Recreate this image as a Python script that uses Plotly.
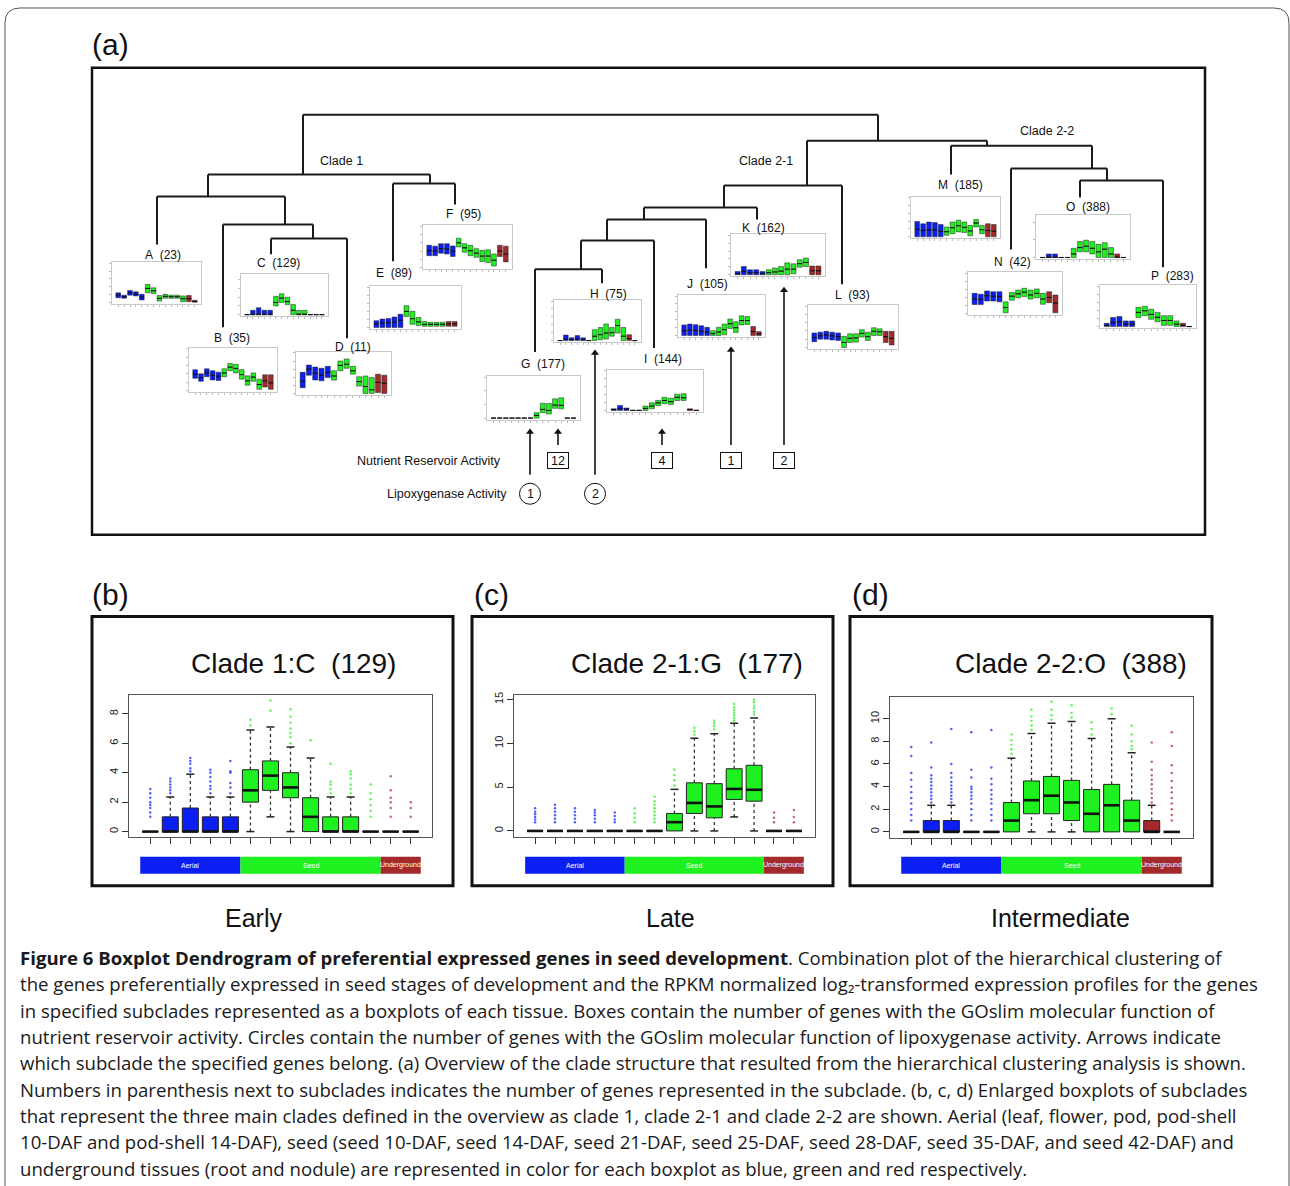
import plotly.graph_objects as go

W, H = 1290, 1186

# ======================= DATA =======================
clade_names = ["A", "B", "C", "D", "E", "F", "G", "H", "I", "J", "K", "L", "M", "N", "O", "P"]
clade_sizes = [23, 35, 129, 11, 89, 95, 177, 75, 144, 105, 162, 93, 185, 42, 388, 283]

tissue_group = [0, 0, 0, 0, 0, 1, 1, 1, 1, 1, 1, 1, 2, 2]
group_labels = ["Aerial", "Seed", "Underground"]
group_sizes = [5, 7, 2]

# ---- enlarged panel (b): Clade 1:C (129) ----
b_q1 = [0, 0, 0, 0, 0, 2.0, 2.8, 2.3, 0, 0, 0, 0, 0, 0]
b_med = [0, 0, 0, 0, 0, 2.8, 3.8, 3.0, 1.0, 0, 0, 0, 0, 0]
b_q3 = [0, 1.0, 1.6, 1.0, 1.0, 4.2, 4.8, 4.0, 2.3, 1.0, 1.0, 0, 0, 0]
b_lo = [0, 0, 0, 0, 0, 0, 1.0, 0, 0, 0, 0, 0, 0, 0]
b_hi = [0, 2.35, 3.9, 2.35, 2.35, 6.9, 7.1, 5.75, 5.0, 2.35, 2.35, 0, 0, 0]
b_out = [[1.0, 1.3, 1.6, 1.8, 2.0, 2.3, 2.6, 2.9], [2.6, 2.8, 3.0, 3.2, 3.4, 3.6],
         [4.1, 4.3, 4.6, 4.8, 5.0], [2.6, 2.9, 3.1, 3.4, 3.7, 4.0, 4.2],
         [2.6, 3.0, 3.3, 4.0, 4.1, 4.8], [7.2, 7.6], [8.2, 8.9],
         [6.0, 6.4, 6.7, 7.0, 7.4, 7.8, 8.3], [6.2], [2.6, 2.9, 3.2, 3.4, 4.6],
         [2.6, 2.9, 3.2, 3.6, 3.9, 4.1], [1.0, 1.4, 1.8, 2.2, 2.6, 3.2],
         [1.0, 1.6, 2.0, 2.3, 2.8, 3.75], [1.0, 1.6, 2.0]]

# ---- enlarged panel (c): Clade 2-1:G (177) ----
c_q1 = [0, 0, 0, 0, 0, 0, 0, 0, 2.0, 1.5, 3.6, 3.4, 0, 0]
c_med = [0, 0, 0, 0, 0, 0, 0, 1.0, 3.2, 2.8, 4.8, 4.7, 0, 0]
c_q3 = [0, 0, 0, 0, 0, 0, 0, 2.0, 5.5, 5.4, 7.1, 7.5, 0, 0]
c_lo = [0, 0, 0, 0, 0, 0, 0, 0, 0, 0, 1.6, 0, 0, 0]
c_hi = [0, 0, 0, 0, 0, 0, 0, 4.75, 10.6, 11.1, 12.3, 12.9, 0, 0]
c_out = [[1.0, 1.3, 1.6, 1.9, 2.2, 2.6], [1.0, 1.4, 1.8, 2.2, 2.6, 3.0],
         [1.0, 1.4, 1.8, 2.2, 2.6], [1.0, 1.4, 1.8, 2.1, 2.4], [1.0, 1.3, 1.7, 2.1],
         [1.0, 1.5, 2.0, 2.6], [1.0, 1.4, 1.8, 2.2, 2.6, 3.0, 3.4, 3.9],
         [5.2, 5.8, 6.4, 7.0], [11.0, 11.4, 11.8], [11.6, 12.0, 12.3, 12.6],
         [12.6, 12.9, 13.2, 13.5, 13.8, 14.1, 14.5], [13.3, 13.6, 14.0, 14.3, 14.7, 15.0],
         [1.0, 1.5, 2.1], [1.0, 1.6, 2.4]]

# ---- enlarged panel (d): Clade 2-2:O (388) ----
d_q1 = [0, 0, 0, 0, 0, 0, 1.6, 1.6, 1.0, 0, 0, 0, 0, 0]
d_med = [0, 0, 0, 0, 0, 1.0, 2.8, 3.2, 2.6, 1.6, 2.35, 1.0, 0, 0]
d_q3 = [0, 1.0, 1.0, 0, 0, 2.6, 4.5, 4.9, 4.55, 3.75, 4.2, 2.8, 1.0, 0]
d_lo = [0, 0, 0, 0, 0, 0, 0, 0, 0, 0, 0, 0, 0, 0]
d_hi = [0, 2.35, 2.35, 0, 0, 6.5, 8.7, 9.6, 9.75, 8.25, 10.0, 7.0, 2.35, 0]
d_out = [[1.0, 1.5, 2.0, 2.5, 3.0, 3.5, 4.0, 4.6, 5.2, 6.7, 7.5],
         [2.6, 2.9, 3.2, 3.5, 3.8, 4.1, 4.4, 4.7, 5.0, 5.7, 7.9],
         [2.6, 2.9, 3.2, 3.5, 3.8, 4.1, 4.4, 4.8, 5.2, 6.0, 9.1],
         [1.0, 1.5, 2.0, 2.5, 2.9, 3.2, 3.5, 3.8, 4.0, 4.8, 5.5, 8.8],
         [1.0, 1.5, 2.0, 2.5, 2.9, 3.3, 3.7, 4.2, 4.7, 5.7, 9.0],
         [6.9, 7.3, 7.7, 8.1, 8.6], [9.0, 9.4, 9.8, 10.2, 10.8], [9.9, 10.3, 10.8, 11.5],
         [10.1, 10.5, 11.2], [8.6, 9.1, 9.7], [10.4, 10.9], [7.3, 7.6, 8.0, 8.6, 9.4],
         [2.6, 3.0, 3.4, 3.8, 4.2, 4.6, 5.0, 5.5, 6.2, 7.9],
         [1.0, 1.5, 2.0, 2.5, 3.0, 3.5, 3.9, 4.5, 5.2, 5.9, 7.6, 8.8]]

# ---- miniature boxplots of the overview (relative scale) ----
A_q1 = [1.25, 1.1, 1.9, 1.7, 0.7, 2.5, 2.3, 0.4, 1.1, 1.1, 1.1, 0.25, 0.25, 0.1]
A_med = [1.9, 1.5, 2.5, 2.2, 1.4, 3.6, 3.0, 1.1, 1.6, 1.5, 1.5, 1.0, 1.0, 0.3]
A_q3 = [2.5, 1.9, 3.1, 2.75, 2.1, 4.6, 3.75, 1.8, 2.1, 1.9, 1.9, 1.7, 1.8, 0.6]
B_q1 = [2.9, 2.2, 3.3, 2.5, 2.4, 3.3, 4.75, 4.2, 2.7, 1.25, 2.2, 0.25, 0.8, 0.25]
B_med = [3.9, 3.1, 4.2, 3.6, 3.4, 4.2, 5.6, 5.3, 3.8, 2.3, 3.2, 1.4, 2.3, 1.8]
B_q3 = [5.0, 4.0, 5.2, 4.75, 4.4, 5.2, 6.5, 6.3, 5.0, 3.5, 4.2, 2.7, 3.75, 3.75]
D_q1 = [1.4, 4.5, 3.3, 3.1, 3.9, 3.3, 5.6, 6.2, 4.75, 1.8, 0, 0, 0.2, 0]
D_med = [3.0, 6.0, 5.0, 4.5, 5.2, 4.3, 6.9, 7.2, 5.6, 2.9, 1.7, 0.9, 2.7, 2.5]
D_q3 = [5.2, 7.0, 6.5, 6.2, 6.7, 5.6, 8.0, 8.5, 6.7, 4.1, 4.3, 3.9, 4.75, 4.5]
E_q1 = [0, 0, 0, 0, 0, 2.75, 0.8, 0.5, 0.3, 0.3, 0.3, 0.3, 0.3, 0.3]
E_med = [0.9, 1.1, 1.2, 1.4, 1.8, 4.0, 2.2, 1.4, 0.8, 0.8, 0.8, 0.8, 0.9, 0.9]
E_q3 = [1.7, 2.1, 2.25, 2.6, 3.3, 5.4, 4.0, 2.5, 1.5, 1.3, 1.3, 1.3, 1.5, 1.5]
F_q1 = [2.9, 2.9, 3.5, 3.3, 2.7, 5.0, 3.75, 2.9, 2.5, 1.5, 1.25, 0.4, 2.7, 1.4]
F_med = [4.1, 4.0, 4.6, 4.5, 4.0, 6.0, 4.8, 4.1, 3.5, 2.8, 2.8, 1.8, 4.0, 3.3]
F_q3 = [5.4, 5.2, 5.8, 5.8, 5.25, 7.1, 5.8, 5.4, 4.6, 4.2, 4.3, 3.3, 5.4, 5.2]
H_q1 = [0, 0, 0, 0, 0, 0, 0, 0.2, 0.4, 1.1, 1.9, 0, 0, 0]
H_med = [0, 0.4, 0.2, 0.4, 0.2, 0, 1.1, 1.5, 1.9, 2.0, 3.8, 1.1, 0.5, 0]
H_q3 = [0, 1.4, 0.7, 1.25, 0.7, 0, 2.75, 3.3, 4.2, 3.3, 5.4, 3.3, 1.5, 0]
I_q1 = [0, 0, 0, 0, 0, 0, 0.4, 1.25, 1.7, 1.5, 2.5, 2.5, 0, 0]
I_med = [0.2, 0.5, 0.3, 0, 0, 0.5, 1.1, 1.9, 2.5, 2.2, 3.3, 3.2, 0.2, 0]
I_q3 = [0.4, 1.25, 0.6, 0, 0, 1.1, 1.9, 2.5, 3.3, 3.1, 4.1, 4.2, 0.4, 0]
J_q1 = [0, 0, 0, 0, 0, 0, 0, 0.2, 1.8, 0.8, 2.7, 2.8, 0, 0]
J_med = [1.2, 1.4, 1.3, 1.1, 0.9, 0.5, 0.9, 1.5, 3.0, 2.0, 3.8, 3.8, 1.0, 0.4]
J_q3 = [2.7, 2.9, 2.75, 2.5, 2.1, 1.25, 2.1, 2.9, 4.2, 3.5, 5.0, 4.8, 2.3, 1.0]
K_q1 = [0, 0, 0, 0, 0, 0, 0, 0, 0, 0.25, 1.9, 2.1, 0, 0]
K_med = [0.3, 0.9, 0.5, 0.5, 0.3, 0.5, 0.7, 0.9, 1.4, 1.4, 2.8, 3.1, 1.0, 1.0]
K_q3 = [0.8, 2.1, 1.25, 1.25, 0.8, 1.25, 1.7, 2.1, 3.0, 2.75, 3.8, 4.2, 2.2, 2.2]
L_q1 = [1.4, 2.0, 2.0, 1.8, 1.7, 0, 1.2, 1.3, 2.5, 1.7, 2.9, 2.9, 1.2, 0.6]
L_med = [2.4, 2.8, 3.0, 2.8, 2.6, 1.2, 2.2, 2.3, 3.4, 2.6, 3.9, 3.8, 2.6, 2.2]
L_q3 = [3.5, 3.7, 3.9, 3.7, 3.5, 2.7, 3.3, 3.3, 4.3, 3.7, 4.75, 4.5, 3.9, 3.9]
M_q1 = [0, 0, 0, 0, 0, 0.4, 0.8, 1.25, 1.1, 0.25, 2.5, 0.8, 0, 0]
M_med = [1.9, 1.6, 1.8, 1.7, 1.4, 1.3, 2.3, 2.8, 2.4, 1.5, 3.5, 1.8, 1.6, 1.4]
M_q3 = [3.9, 3.3, 3.75, 3.6, 3.1, 2.5, 3.75, 4.2, 3.75, 2.9, 4.4, 2.9, 3.3, 3.1]
N_q1 = [2.25, 2.25, 3.1, 3.1, 2.9, 0.2, 3.3, 3.9, 4.2, 3.6, 3.9, 2.3, 2.7, 0.2]
N_med = [3.6, 3.5, 4.4, 4.3, 4.2, 1.5, 4.3, 4.9, 5.3, 4.6, 5.0, 3.6, 4.0, 2.6]
N_q3 = [5.0, 4.8, 5.6, 5.4, 5.4, 2.9, 5.2, 5.8, 6.25, 5.8, 6.1, 5.0, 5.4, 4.6]
P_q1 = [0, 0, 0, 0, 0, 2.25, 2.7, 1.8, 1.2, 0.3, 0.3, 0, 0, 0]
P_med = [0.3, 1.0, 1.2, 0.6, 0.6, 3.5, 3.9, 3.0, 2.3, 1.5, 1.5, 0.6, 0.3, 0]
P_q3 = [0.8, 2.25, 2.5, 1.4, 1.4, 4.75, 5.0, 4.3, 3.5, 2.7, 2.7, 1.4, 0.8, 0]

# ---- GOslim annotations ----
nutrient_clades = ["G", "I", "J", "K"]
nutrient_counts = [12, 4, 1, 2]
lipox_clades = ["G", "H"]
lipox_counts = [1, 2]

# ---- dendrogram topology ----
den_children = {
    "root": ["c1", "c2"], "c1": ["n_abcd", "n_ef"], "n_abcd": ["A", "n_bcd"],
    "n_bcd": ["B", "n_cd"], "n_cd": ["C", "D"], "n_ef": ["E", "F"],
    "c2": ["c21", "c22"], "c21": ["n_gk", "L"], "n_gk": ["n_gj", "K"],
    "n_gj": ["n_gi", "J"], "n_gi": ["n_gh", "I"], "n_gh": ["G", "H"],
    "c22": ["M", "n_np"], "n_np": ["N", "n_op"], "n_op": ["O", "P"],
}

caption_lines = [
    "<b>Figure 6 Boxplot Dendrogram of preferential expressed genes in seed development</b>. Combination plot of the hierarchical clustering of",
    "the genes preferentially expressed in seed stages of development and the RPKM normalized log\u2082-transformed expression profiles for the genes",
    "in specified subclades represented as a boxplots of each tissue. Boxes contain the number of genes with the GOslim molecular function of",
    "nutrient reservoir activity. Circles contain the number of genes with the GOslim molecular function of lipoxygenase activity. Arrows indicate",
    "which subclade the specified genes belong. (a) Overview of the clade structure that resulted from the hierarchical clustering analysis is shown.",
    "Numbers in parenthesis next to subclades indicates the number of genes represented in the subclade. (b, c, d) Enlarged boxplots of subclades",
    "that represent the three main clades defined in the overview as clade 1, clade 2-1 and clade 2-2 are shown. Aerial (leaf, flower, pod, pod-shell",
    "10-DAF and pod-shell 14-DAF), seed (seed 10-DAF, seed 14-DAF, seed 21-DAF, seed 25-DAF, seed 28-DAF, seed 35-DAF, and seed 42-DAF) and",
    "underground tissues (root and nodule) are represented in color for each boxplot as blue, green and red respectively.",
]

# ======================= LAYOUT (pixel positions / styles) =======================
group_colors = ["#0b1ff2", "#1ff01f", "#a3292a"]
FONT = "Liberation Sans"
NB = "\u00a0"

den_x = {"c1": 303, "n_abcd": 208, "n_bcd": 285, "n_cd": 313, "n_ef": 430,
         "c2": 878, "c21": 807, "n_gk": 724, "n_gj": 644, "n_gi": 607, "n_gh": 581,
         "c22": 987, "n_np": 1092, "n_op": 1107,
         "A": 157, "B": 223, "C": 271, "D": 347, "E": 393, "F": 455, "G": 535, "H": 602,
         "I": 654, "J": 706, "K": 757, "L": 842, "M": 951, "N": 1011, "O": 1080, "P": 1163}
den_y = {"root": 112, "c1": 172, "n_abcd": 194, "n_bcd": 222, "n_cd": 236, "n_ef": 181,
         "c2": 138, "c21": 183, "n_gk": 205, "n_gj": 217, "n_gi": 238, "n_gh": 267,
         "c22": 143, "n_np": 166, "n_op": 178,
         "A": 242, "B": 325, "C": 252, "D": 336, "E": 259, "F": 202, "G": 350, "H": 281,
         "I": 346, "J": 266, "K": 217, "L": 282, "M": 172, "N": 247, "O": 195, "P": 265}
label_pos = {"A": (163, 253), "B": (232, 336), "C": (278, 261), "D": (353, 345),
             "E": (394, 271), "F": (463, 212), "G": (543, 362), "H": (608, 292),
             "I": (663, 357), "J": (707, 282), "K": (763, 226), "L": (852, 293),
             "M": (960, 182), "N": (1012, 260), "O": (1088, 205), "P": (1172, 274)}
mini_frame = {"A": (112, 260, 201, 302), "B": (189, 346, 277, 390), "C": (241, 272, 328, 314),
              "D": (296, 350, 391, 393), "E": (370, 284, 461, 327), "F": (423, 223, 512, 267),
              "G": (487, 374, 580, 418), "H": (554, 298, 641, 340), "I": (607, 368, 703, 410),
              "J": (678, 293, 765, 335), "K": (731, 232, 825, 274), "L": (808, 303, 898, 347),
              "M": (911, 194, 1000, 236), "N": (968, 270, 1062, 313), "O": (1036, 213, 1130, 257),
              "P": (1100, 283, 1196, 326)}
panel_frame = {"b": (129, 694, 432, 836), "c": (514, 694, 815, 836), "d": (890, 696, 1193, 837)}
panel_range = {"b": [-0.36, 9.26], "c": [-0.68, 15.5], "d": [-0.53, 11.9]}
panel_ticks = {"b": [0, 2, 4, 6, 8], "c": [0, 5, 10, 15], "d": [0, 2, 4, 6, 8, 10]}
panel_title = {"b": ("Clade 1:C" + NB * 2 + "(129)", 293), "c": ("Clade 2-1:G" + NB * 2 + "(177)", 687),
               "d": ("Clade 2-2:O" + NB * 2 + "(388)", 1071)}
panel_box = {"b": (92, 615, 453, 885), "c": (472, 615, 833, 885), "d": (850, 615, 1212, 885)}
panel_letter = {"b": (110, 593), "c": (491, 593), "d": (870, 593)}
panel_sub = {"b": ("Early", 253), "c": ("Late", 670), "d": ("Intermediate", 1060)}
nutrient_x = {"G": 558, "I": 662, "J": 731, "K": 784}
nutrient_tip = {"G": 427, "I": 427, "J": 345, "K": 285}
lipox_x = {"G": 530, "H": 595}
lipox_tip = {"G": 427, "H": 348}
XR = [-0.06, 15.06]
CAP_FONT = dict(size=18.6, family="Open Sans", color="#1a1a1a")

fig = go.Figure()
ann = []
shapes = []

# ---------- overlay axis (pixel space) ----------
lx, ly = [], []
for node, kids in den_children.items():
    xs = [den_x[k] for k in kids]
    lx += [min(xs), max(xs), None]
    ly += [den_y[node], den_y[node], None]
    for k in kids:
        lx += [den_x[k], den_x[k], None]
        ly += [den_y[node], den_y[k], None]
fig.add_trace(go.Scatter(x=lx, y=ly, mode="lines", line=dict(color="#1a1a1a", width=2),
                         hoverinfo="skip", showlegend=False, xaxis="x", yaxis="y"))

ax_, ay_, hx, hy = [], [], [], []
for c in nutrient_clades:
    ax_ += [nutrient_x[c], nutrient_x[c], None]
    ay_ += [443, nutrient_tip[c] + 3, None]
    hx.append(nutrient_x[c]); hy.append(nutrient_tip[c] + 3)
for c in lipox_clades:
    ax_ += [lipox_x[c], lipox_x[c], None]
    ay_ += [473, lipox_tip[c] + 3, None]
    hx.append(lipox_x[c]); hy.append(lipox_tip[c] + 3)
fig.add_trace(go.Scatter(x=ax_, y=ay_, mode="lines", line=dict(color="#111", width=1.6),
                         hoverinfo="skip", showlegend=False, xaxis="x", yaxis="y"))
fig.add_trace(go.Scatter(x=hx, y=hy, mode="markers",
                         marker=dict(symbol="triangle-up", size=7, color="#111"),
                         hoverinfo="skip", showlegend=False, xaxis="x", yaxis="y"))
fig.add_trace(go.Scatter(x=[lipox_x[c] for c in lipox_clades], y=[492] * len(lipox_clades),
                         mode="markers",
                         marker=dict(symbol="circle-open", size=21, color="#111", line=dict(width=1)),
                         hoverinfo="skip", showlegend=False, xaxis="x", yaxis="y"))

fig.update_layout(xaxis=dict(domain=[0, 1], range=[0, W], visible=False, fixedrange=True),
                  yaxis=dict(domain=[0, 1], range=[H, 0], visible=False, fixedrange=True))


def dom(x0, y0, x1, y1):
    return [x0 / W, x1 / W], [1 - y1 / H, 1 - y0 / H]


def add_boxes(n, q1, med, q3, lw_box, lw_med):
    xa, ya = f"x{n}", f"y{n}"
    for g in range(3):
        idx = [i for i in range(14) if tissue_group[i] == g]
        fig.add_trace(go.Box(x=[i + 1 for i in idx], q1=[q1[i] for i in idx],
                             median=[med[i] for i in idx], q3=[q3[i] for i in idx],
                             lowerfence=[q1[i] for i in idx], upperfence=[q3[i] for i in idx],
                             width=0.8, fillcolor=group_colors[g], whiskerwidth=0,
                             line=dict(color="#222", width=lw_box), boxpoints=False,
                             hoverinfo="skip", showlegend=False, xaxis=xa, yaxis=ya))
    mx, my = [], []
    for i in range(14):
        mx += [i + 1 - 0.4, i + 1 + 0.4, None]
        my += [med[i], med[i], None]
    fig.add_trace(go.Scatter(x=mx, y=my, mode="lines", line=dict(color="#111", width=lw_med),
                             hoverinfo="skip", showlegend=False, xaxis=xa, yaxis=ya))


# ---------- enlarged panels ----------
panel_data = {"b": (b_q1, b_med, b_q3, b_lo, b_hi, b_out),
              "c": (c_q1, c_med, c_q3, c_lo, c_hi, c_out),
              "d": (d_q1, d_med, d_q3, d_lo, d_hi, d_out)}
n = 2
for key in ["b", "c", "d"]:
    q1, med, q3, lo, hi, outs = panel_data[key]
    xa, ya = f"x{n}", f"y{n}"
    wx, wy, cx, cy = [], [], [], []
    for i in range(14):
        if hi[i] > q3[i]:
            wx += [i + 1, i + 1, None]; wy += [q3[i], hi[i], None]
            cx += [i + 1 - 0.2, i + 1 + 0.2, None]; cy += [hi[i], hi[i], None]
        if lo[i] < q1[i]:
            wx += [i + 1, i + 1, None]; wy += [lo[i], q1[i], None]
            cx += [i + 1 - 0.2, i + 1 + 0.2, None]; cy += [lo[i], lo[i], None]
    fig.add_trace(go.Scatter(x=wx, y=wy, mode="lines", line=dict(color="#333", width=1.3, dash="3px,3px"),
                             hoverinfo="skip", showlegend=False, xaxis=xa, yaxis=ya))
    fig.add_trace(go.Scatter(x=cx, y=cy, mode="lines", line=dict(color="#222", width=1.5),
                             hoverinfo="skip", showlegend=False, xaxis=xa, yaxis=ya))
    for g in range(3):
        ox, oy = [], []
        for i in range(14):
            if tissue_group[i] == g:
                ox += [i + 1] * len(outs[i]); oy += outs[i]
        fig.add_trace(go.Scatter(x=ox, y=oy, mode="markers",
                                 marker=dict(size=2.5, color=group_colors[g], opacity=0.7),
                                 hoverinfo="skip", showlegend=False, xaxis=xa, yaxis=ya))
    add_boxes(n, q1, med, q3, 1, 2.6)
    x0, y0, x1, y1 = panel_frame[key]
    dx, dy = dom(x0, y0, x1, y1)
    fig.update_layout(**{
        f"xaxis{n}": dict(domain=dx, range=XR, anchor=ya, tickvals=list(range(1, 15)),
                          showticklabels=False, ticks="outside", ticklen=6, tickcolor="#333",
                          showline=True, mirror=True, linecolor="#555", linewidth=1,
                          showgrid=False, zeroline=False, fixedrange=True),
        f"yaxis{n}": dict(domain=dy, range=panel_range[key], anchor=xa, tickvals=panel_ticks[key],
                          ticks="outside", ticklen=6, tickcolor="#333", tickangle=-90,
                          tickfont=dict(size=11, family=FONT, color="#222"),
                          showline=True, mirror=True, linecolor="#555", linewidth=1,
                          showgrid=False, zeroline=False, fixedrange=True),
    })
    start = 0.5
    for g in range(3):
        shapes.append(dict(type="rect", xref=xa, yref="y", x0=start, x1=start + group_sizes[g],
                           y0=856, y1=873, fillcolor=group_colors[g], line=dict(width=0), layer="above"))
        ann.append(dict(x=start + group_sizes[g] / 2, y=864.5, xref=xa, yref="y", text=group_labels[g],
                        showarrow=False, font=dict(size=7, family=FONT, color="white")))
        start += group_sizes[g]
    t, tx = panel_title[key]
    ann.append(dict(x=tx, y=662, xref="x", yref="y", text=t, showarrow=False,
                    font=dict(size=28, family=FONT, color="#111")))
    bx0, by0, bx1, by1 = panel_box[key]
    shapes.append(dict(type="rect", xref="x", yref="y", x0=bx0, x1=bx1, y0=by0, y1=by1,
                       line=dict(color="#111", width=3)))
    lx_, ly_ = panel_letter[key]
    ann.append(dict(x=lx_, y=ly_, xref="x", yref="y", text=f"({key})", showarrow=False,
                    font=dict(size=30, family=FONT, color="#111")))
    st, sx = panel_sub[key]
    ann.append(dict(x=sx, y=917, xref="x", yref="y", text=st, showarrow=False,
                    font=dict(size=25, family=FONT, color="#111")))
    n += 1

# ---------- miniature boxplots ----------
mini_data = {"A": (A_q1, A_med, A_q3), "B": (B_q1, B_med, B_q3), "C": (b_q1, b_med, b_q3),
             "D": (D_q1, D_med, D_q3), "E": (E_q1, E_med, E_q3), "F": (F_q1, F_med, F_q3),
             "G": (c_q1, c_med, c_q3), "H": (H_q1, H_med, H_q3), "I": (I_q1, I_med, I_q3),
             "J": (J_q1, J_med, J_q3), "K": (K_q1, K_med, K_q3), "L": (L_q1, L_med, L_q3),
             "M": (M_q1, M_med, M_q3), "N": (N_q1, N_med, N_q3), "O": (d_q1, d_med, d_q3),
             "P": (P_q1, P_med, P_q3)}
mini_range = {"C": panel_range["b"], "G": panel_range["c"], "O": panel_range["d"]}
for name, size in zip(clade_names, clade_sizes):
    q1, med, q3 = mini_data[name]
    add_boxes(n, q1, med, q3, 0.5, 1)
    x0, y0, x1, y1 = mini_frame[name]
    dx, dy = dom(x0, y0, x1, y1)
    fig.update_layout(**{
        f"xaxis{n}": dict(domain=dx, range=XR, anchor=f"y{n}", tickvals=list(range(1, 15)),
                          showticklabels=False, ticks="outside", ticklen=2, tickcolor="#bbb",
                          showline=True, mirror=True, linecolor="#c8c8c8", linewidth=1,
                          showgrid=False, zeroline=False, fixedrange=True),
        f"yaxis{n}": dict(domain=dy, range=mini_range.get(name, [-0.4, 10.2]), anchor=f"x{n}",
                          nticks=6, showticklabels=False, ticks="outside", ticklen=2, tickcolor="#bbb",
                          showline=True, mirror=True, linecolor="#c8c8c8", linewidth=1,
                          showgrid=False, zeroline=False, fixedrange=True),
    })
    px, py = label_pos[name]
    ann.append(dict(x=px, y=py, xref="x", yref="y", text=f"{name}{NB * 2}({size})", showarrow=False,
                    font=dict(size=12, family=FONT, color="#111")))
    n += 1

# ---------- clade labels ----------
for t, x, y in [("Clade 1", 341, 158), ("Clade 2-1", 766, 158), ("Clade 2-2", 1047, 128)]:
    ann.append(dict(x=x, y=y, xref="x", yref="y", text=t, showarrow=False,
                    font=dict(size=12.5, family=FONT, color="#111")))

# ---------- GOslim annotations ----------
ann.append(dict(x=503, y=459, xref="x", yref="y", text="Nutrient Reservoir Activity", xanchor="right",
                showarrow=False, font=dict(size=12.5, family=FONT, color="#111")))
ann.append(dict(x=509, y=492, xref="x", yref="y", text="Lipoxygenase Activity", xanchor="right",
                showarrow=False, font=dict(size=12.5, family=FONT, color="#111")))
for c, v in zip(nutrient_clades, nutrient_counts):
    ann.append(dict(x=nutrient_x[c], y=459, xref="x", yref="y", text=str(v), showarrow=False,
                    font=dict(size=12.5, family=FONT, color="#111"), bordercolor="#111",
                    borderwidth=1, borderpad=1, width=18, height=13))
for c, v in zip(lipox_clades, lipox_counts):
    ann.append(dict(x=lipox_x[c], y=492, xref="x", yref="y", text=str(v), showarrow=False,
                    font=dict(size=12.5, family=FONT, color="#111")))

# ---------- panel (a) frame & letter ----------
shapes.append(dict(type="rect", xref="x", yref="y", x0=92, x1=1205, y0=65, y1=533,
                   line=dict(color="#111", width=2.5)))
ann.append(dict(x=110, y=42, xref="x", yref="y", text="(a)", showarrow=False,
                font=dict(size=30, family=FONT, color="#111")))

# ---------- outer rounded border ----------
shapes.append(dict(type="path", xref="x", yref="y",
                   path="M 5,1190 L 5,20 Q 5,5 20,5 L 1274,5 Q 1289,5 1289,20 L 1289,1190",
                   line=dict(color="#555", width=1)))

# ---------- caption ----------
for k, line in enumerate(caption_lines):
    ann.append(dict(x=18, y=957 + k * 26.4, xref="x", yref="y", text=line,
                    xanchor="left", yanchor="middle", showarrow=False, font=CAP_FONT))

fig.update_layout(width=W, height=H, margin=dict(l=0, r=0, t=0, b=0),
                  paper_bgcolor="white", plot_bgcolor="rgba(0,0,0,0)",
                  annotations=ann, shapes=shapes, showlegend=False,
                  font=dict(family=FONT))

fig.write_html("out.html", config={"displayModeBar": False},
               post_script="document.body.style.margin='0';document.body.style.overflow='hidden';")
